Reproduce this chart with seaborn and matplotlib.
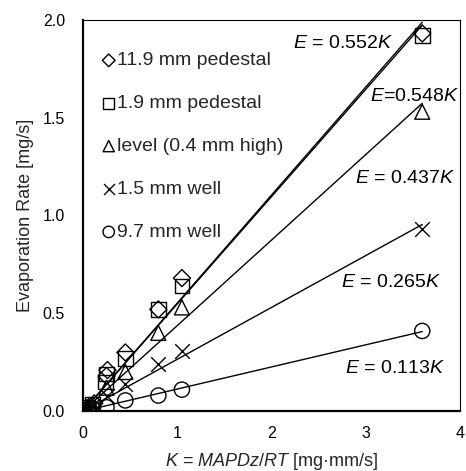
import numpy as np
import pandas as pd
import matplotlib
matplotlib.use("Agg")
import matplotlib.pyplot as plt
from matplotlib.ticker import MultipleLocator, FormatStrFormatter
import seaborn as sns

# ---- data ----
series_names = ["11.9 mm pedestal", "1.9 mm pedestal", "level (0.4 mm high)",
                "1.5 mm well", "9.7 mm well"]

k_diamond = [0.0, 0.06, 0.12, 0.25, 0.26, 0.45, 0.80, 1.05, 3.60]
e_diamond = [0.005, 0.02, 0.04, 0.18, 0.21, 0.30, 0.52, 0.68, 1.93]

k_square = [0.0, 0.05, 0.10, 0.24, 0.25, 0.45, 0.80, 1.05, 3.60]
e_square = [0.005, 0.02, 0.035, 0.15, 0.19, 0.27, 0.52, 0.64, 1.92]

k_triangle = [0.0, 0.05, 0.10, 0.25, 0.45, 0.80, 1.05, 3.60]
e_triangle = [0.004, 0.015, 0.03, 0.12, 0.20, 0.40, 0.53, 1.53]

k_cross = [0.0, 0.05, 0.10, 0.25, 0.45, 0.80, 1.05, 3.60]
e_cross = [0.003, 0.01, 0.025, 0.08, 0.14, 0.24, 0.31, 0.93]

k_circle = [0.0, 0.05, 0.10, 0.25, 0.45, 0.80, 1.05, 3.60]
e_circle = [0.002, 0.006, 0.012, 0.02, 0.055, 0.08, 0.11, 0.41]

fit_slopes = [0.552, 0.548, 0.437, 0.265, 0.113]
fit_labels = ["0.552", "0.548", "0.437", "0.265", "0.113"]
fit_k_end = 3.6

x_ticks = [0, 1, 2, 3, 4]
y_ticks = [0.0, 0.5, 1.0, 1.5, 2.0]

# ---- style ----
sns.set_theme(style="white")
plt.rcParams["font.family"] = ["Liberation Sans", "DejaVu Sans"]
plt.rcParams["mathtext.fontset"] = "custom"
plt.rcParams["mathtext.rm"] = "Liberation Sans"
plt.rcParams["mathtext.it"] = "Liberation Sans:italic"

fig = plt.figure(figsize=(4.66, 4.71), dpi=100)
ax = fig.add_axes([0.178, 0.127, 0.809, 0.831])

markers = ["D", "s", "^", "x", "o"]
sizes = [75, 110, 115, 110, 120]
ks = [k_diamond, k_square, k_triangle, k_cross, k_circle]
es = [e_diamond, e_square, e_triangle, e_cross, e_circle]

for name, m, s, k, e in zip(series_names, markers, sizes, ks, es):
    df = pd.DataFrame({"K": k, "E": e})
    if m == "x":
        sns.scatterplot(data=df, x="K", y="E", marker=m, s=s, color="black",
                        linewidth=1.0, ax=ax, label=name, zorder=3)
    else:
        sns.scatterplot(data=df, x="K", y="E", marker=m, s=s, facecolor="none",
                        edgecolor="black", linewidth=1.0, ax=ax, label=name, zorder=3)

for slope in fit_slopes:
    fk = np.array([0.0, fit_k_end])
    fdf = pd.DataFrame({"K": fk, "E": slope * fk})
    sns.lineplot(data=fdf, x="K", y="E", color="black", linewidth=1.0, ax=ax,
                 legend=False, zorder=2)

# equation labels
label_pos = [(2.23, 1.88), (3.05, 1.61), (2.89, 1.19), (2.74, 0.655), (2.78, 0.22)]
for (lx, ly), lab, sp in zip(label_pos, fit_labels, [True, False, True, True, True]):
    if sp:
        txt = r"$E$ = " + lab + r"$K$"
    else:
        txt = r"$E$=" + lab + r"$K$"
    ax.text(lx, ly, txt, fontsize=14, ha="left", va="center", color="black")

ax.set_xlim(0, 4)
ax.set_ylim(0, 2.0)
ax.set_xticks(x_ticks)
ax.set_yticks(y_ticks)
ax.xaxis.set_minor_locator(MultipleLocator(0.2))
ax.yaxis.set_minor_locator(MultipleLocator(0.1))
ax.yaxis.set_major_formatter(FormatStrFormatter("%.1f"))

ax.tick_params(axis="both", which="major", direction="inout", length=10, width=1.2,
               labelsize=11.5, colors="black")
ax.tick_params(axis="x", which="major", pad=6)
ax.tick_params(axis="y", which="major", pad=8)
ax.tick_params(axis="both", which="minor", direction="in", length=4, width=1.0)
ax.tick_params(top=False, right=False, which="both")

for side in ["left", "bottom"]:
    ax.spines[side].set_linewidth(1.6)
    ax.spines[side].set_color("black")
for side in ["top", "right"]:
    ax.spines[side].set_linewidth(0.8)
    ax.spines[side].set_color("black")
    ax.spines[side].set_visible(True)

ax.set_xlabel(r"$K$ = $MAPDz/RT$ [mg·mm/s]", fontsize=13, labelpad=7)
ax.set_ylabel("Evaporation Rate [mg/s]", fontsize=13, labelpad=6)

leg = ax.legend(loc="upper left", bbox_to_anchor=(0.04, 0.933), frameon=False,
                fontsize=14, markerscale=0.75, handlelength=0.5, handletextpad=0.2,
                labelspacing=1.3, borderaxespad=0.0, borderpad=0.3)

fig.savefig("out.png", dpi=100)
